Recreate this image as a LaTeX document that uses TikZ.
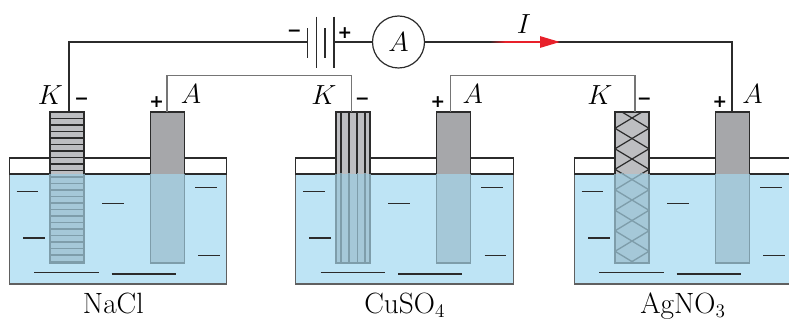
\documentclass[tikz,border=0pt]{standalone}
\usepackage{fontspec}
\newfontfamily\signfont{DejaVu Sans}
\usetikzlibrary{arrows.meta}

\definecolor{liquid}{HTML}{BEE4F5}
\definecolor{wetrod}{HTML}{A5C8D8}
\definecolor{wetline}{HTML}{7E9DAA}
\definecolor{rodK}{HTML}{BDBEC1}
\definecolor{rodA}{HTML}{A6A7AA}
\definecolor{ink}{HTML}{2B2B2B}
\definecolor{current}{HTML}{E8202A}

\tikzset{
  wire/.style={draw=ink, line width=0.9pt},
  innerwire/.style={draw=ink!65, line width=0.9pt},
  lbl/.style={font=\fontsize{22}{26}\selectfont, inner sep=0pt, anchor=base},
  sign/.style={font=\signfont\bfseries\fontsize{13}{15}\selectfont, inner sep=0pt},
  ion/.style={draw=ink, line width=0.9pt},
  plate/.style={draw=ink, line width=0.9pt},
}

% beaker: #1 = left edge
\newcommand\drawbeaker[1]{%
  \begin{scope}[shift={(#1,0)}]
    \filldraw[fill=liquid, draw=ink!75, line width=0.8pt] (0,174) rectangle (217.4,284);
    \filldraw[fill=white, draw=ink, line width=0.8pt] (0,158) rectangle (217.4,174);
    \draw[ink, line width=1.4pt] (0,174) -- (217.4,174);
    \draw[ion] (7.4,191.7) -- (29,191.7);
    \draw[ion] (92.7,203.3) -- (114.7,203.3);
    \draw[ion] (185.7,187.7) -- (207.4,187.7);
    \draw[ion] (13.7,238) -- (35.4,238);
    \draw[ion] (189,255.7) -- (210.7,255.7);
    \draw[ion] (25,272.3) -- (89.7,272.3);
    \draw[ion] (102.4,274) -- (166.7,274);
  \end{scope}}

% electrode: #1 = left edge, #2 = dry fill, #3 = hatch paths, #4 = dry hatch width
\newcommand\drawrod[4]{%
  \begin{scope}[shift={(#1,0)}]
    \fill[#2] (0,112) rectangle (34,174);
    \fill[wetrod] (0,174) rectangle (34,263);
    \begin{scope}[hatch/.style={draw=ink, line width=#4}]
      \clip (0,112) rectangle (34,174);
      #3
    \end{scope}
    \begin{scope}[hatch/.style={draw=wetline, line width=1pt}]
      \clip (0,174) rectangle (34,263);
      #3
    \end{scope}
    \draw[ink, line width=1.1pt] (0,174) -- (0,112) -- (34,112) -- (34,174);
    \draw[wetline, line width=1.1pt] (0,174) -- (0,263) -- (34,263) -- (34,174);
  \end{scope}}

\newcommand\plainhatch{}
\newcommand\barhatch{\foreach \yy in {1,...,23} {\draw[hatch] (0,112+6.5*\yy) -- (34,112+6.5*\yy);}}
\newcommand\stripehatch{\foreach \xx in {5,13,21.3,29} {\draw[hatch] (\xx,100) -- (\xx,270);}}
\newcommand\meshhatch{%
  \draw[hatch] (0,107.8) \foreach \j in {1,...,4} { -- ++(34,20.5) -- ++(-34,20.5)};
  \draw[hatch] (34,107.8) \foreach \j in {1,...,4} { -- ++(-34,20.5) -- ++(34,20.5)};}

\begin{document}
\begin{tikzpicture}[x=0.75pt, y=-0.75pt]
  \useasboundingbox (0,0) rectangle (789,320);
  \clip (0,0) rectangle (789,320);

  % three cells
  \drawbeaker{9.3}
  \drawbeaker{295.7}
  \drawbeaker{574.3}

  \drawrod{50}{rodK}{\barhatch}{0.8pt}
  \drawrod{150.7}{rodA}{\plainhatch}{0.8pt}
  \drawrod{336}{rodK}{\stripehatch}{1.6pt}
  \drawrod{436.3}{rodA}{\plainhatch}{0.8pt}
  \drawrod{615}{rodK}{\meshhatch}{0.9pt}
  \drawrod{715.3}{rodA}{\plainhatch}{0.8pt}

  % terminals
  \coordinate (k1) at (69,112);
  \coordinate (a1) at (167,112);
  \coordinate (k2) at (351.3,112);
  \coordinate (a2) at (450.3,112);
  \coordinate (k3) at (635,112);
  \coordinate (a3) at (732,112);

  % source and meter
  \coordinate (batL) at (307.7,42);
  \coordinate (batR) at (334,42);
  \draw[plate] (307.7,28.3) -- (307.7,58.3);
  \draw[plate] (316.7,16.7) -- (316.7,68.3);
  \draw[plate] (325,28.3) -- (325,58.3);
  \draw[plate] (334,16.7) -- (334,68.3);
  \node[sign] (bminus) at (294.5,33.3) {−};
  \node[sign] (bplus) at (345,32.8) {+};

  \node[draw=ink, line width=0.9pt, circle, minimum size=39pt, inner sep=0pt,
        font=\fontsize{22}{26}\selectfont] (amm) at (398.5,42) {$A$};

  % wiring
  \draw[wire] (k1) |- (batL);
  \draw[wire] (batR) -- (amm.west);
  \draw[wire] (amm.east) -| (a3);
  \draw[innerwire] (a1) -- ++(0,-36.5) -| (k2);
  \draw[innerwire] (a2) -- ++(0,-36.5) -| (k3);

  % current direction
  \coordinate (cm) at (505,42);
  \coordinate (ce) at (560,42);
  \shade[left color=ink, right color=current] (490,41.3) rectangle (505,42.7);
  \draw[current, line width=1.4pt, -{Triangle[length=15pt, width=8.5pt]}] (cm) -- (ce);
  \node[lbl] (ilbl) at (524,33.3) {$I$};

  % electrode labels
  \node[lbl] (kl1) at (50.3,104.3) {$K$};
  \node[lbl] (kl2) at (324,104.3) {$K$};
  \node[lbl] (kl3) at (600,104.3) {$K$};
  \node[lbl] (al1) at (191,104) {$A$};
  \node[lbl] (al2) at (472.8,104) {$A$};
  \node[lbl] (al3) at (752.5,104) {$A$};

  \node[sign] (s1) at (81.7,101) {−};
  \node[sign] (s2) at (156.7,102.2) {+};
  \node[sign] (s3) at (362.5,101) {−};
  \node[sign] (s4) at (438,102.2) {+};
  \node[sign] (s5) at (644.5,101) {−};
  \node[sign] (s6) at (720,102.2) {+};

  % electrolytes
  \node[lbl] (e1) at (113.3,313.5) {NaCl};
  \node[lbl] (e2) at (404.7,313.5) {CuSO$_4$};
  \node[lbl] (e3) at (683,313.5) {AgNO$_3$};
\end{tikzpicture}
\end{document}
